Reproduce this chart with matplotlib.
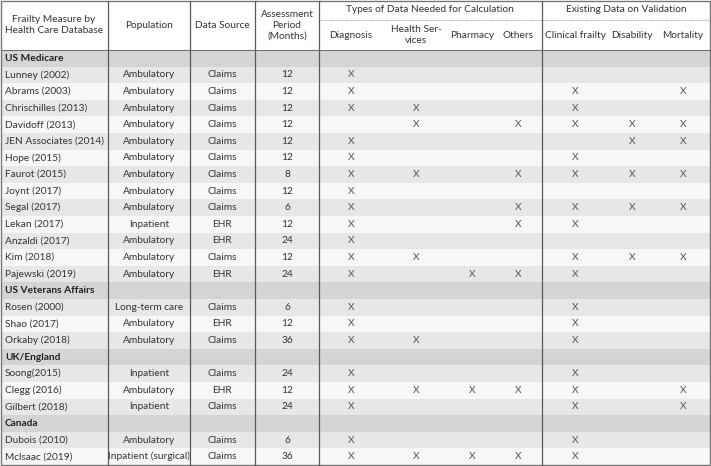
import matplotlib.pyplot as plt
from matplotlib.patches import Rectangle

plt.rcParams['font.family'] = ['Lato', 'DejaVu Sans']

# table content
sections = ['US Medicare', 'US Veterans Affairs', 'UK/England', 'Canada']
studies = [
    ['Lunney (2002)', 'Abrams (2003)', 'Chrischilles (2013)', 'Davidoff (2013)',
     'JEN Associates (2014)', 'Hope (2015)', 'Faurot (2015)', 'Joynt (2017)',
     'Segal (2017)', 'Lekan (2017)', 'Anzaldi (2017)', 'Kim (2018)', 'Pajewski (2019)'],
    ['Rosen (2000)', 'Shao (2017)', 'Orkaby (2018)'],
    ['Soong(2015)', 'Clegg (2016)', 'Gilbert (2018)'],
    ['Dubois (2010)', 'Mclsaac (2019)'],
]
population = [
    ['Ambulatory'] * 9 + ['Inpatient'] + ['Ambulatory'] * 3,
    ['Long-term care', 'Ambulatory', 'Ambulatory'],
    ['Inpatient', 'Ambulatory', 'Inpatient'],
    ['Ambulatory', 'Inpatient (surgical)'],
]
data_source = [
    ['Claims'] * 9 + ['EHR', 'EHR', 'Claims', 'EHR'],
    ['Claims', 'EHR', 'Claims'],
    ['Claims', 'EHR', 'Claims'],
    ['Claims', 'Claims'],
]
period = [
    [12, 12, 12, 12, 12, 12, 8, 12, 6, 12, 24, 12, 24],
    [6, 12, 36],
    [24, 12, 24],
    [6, 36],
]
# marks: Diagnosis, Health Services, Pharmacy, Others, Clinical frailty, Disability, Mortality
marks = [
    ['1000000', '1000101', '1100100', '0101111', '1000011', '1000100', '1101111',
     '1000000', '1001111', '1001100', '1000000', '1100111', '1011100'],
    ['1000100', '1000100', '1100100'],
    ['1000100', '1111101', '1000101'],
    ['1000100', '1111100'],
]

sub_headers = ['Diagnosis', 'Health Ser-\nvices', 'Pharmacy', 'Others',
               'Clinical frailty', 'Disability', 'Mortality']

W, H = 711, 466
fig = plt.figure(figsize=(W / 100, H / 100), dpi=100)
ax = fig.add_axes([0, 0, 1, 1])
ax.set_xlim(0, W)
ax.set_ylim(H, 0)
ax.axis('off')

txt = '#333333'
line = '#5a5a5a'
fs = 7.3

left, right = 1, 709.5
top, head_bot, bottom = 1, 50, 465
vlines = [108, 190, 255, 319, 542]
mark_x = [351, 416, 472, 518, 575, 632, 683]
n_rows = sum(len(s) + 1 for s in studies)
rh = (bottom - head_bot) / n_rows

# header
ax.add_patch(Rectangle((left, top), right - left, head_bot - top, fc='white', ec='none'))
ax.text(54, 25, 'Frailty Measure by\nHealth Care Database', ha='center', va='center',
        fontsize=fs, color=txt, linespacing=1.3)
ax.text(149, 25, 'Population', ha='center', va='center', fontsize=fs, color=txt)
ax.text(222, 25, 'Data Source', ha='center', va='center', fontsize=fs, color=txt)
ax.text(287, 25, 'Assessment\nPeriod\n(Months)', ha='center', va='center',
        fontsize=fs, color=txt, linespacing=1.25)
ax.text(430, 10, 'Types of Data Needed for Calculation', ha='center', va='center',
        fontsize=fs, color=txt)
ax.text(626, 10, 'Existing Data on Validation', ha='center', va='center',
        fontsize=fs, color=txt)
ax.plot([319, right], [19.5, 19.5], color='#888888', lw=0.6, ls=(0, (1, 1)))
for x, h in zip(mark_x, sub_headers):
    ax.text(x, 35, h, ha='center', va='center', fontsize=fs, color=txt, linespacing=1.15)

# body
y = head_bot
for s, sec in enumerate(sections):
    ax.add_patch(Rectangle((left, y), right - left, rh, fc='#d3d4d6', ec='none'))
    ax.text(5, y + rh / 2, sec, ha='left', va='center', fontsize=fs, color='#222222',
            fontweight='bold')
    y += rh
    for i, name in enumerate(studies[s]):
        fc = '#e6e7e9' if i % 2 == 0 else '#f7f7f8'
        ax.add_patch(Rectangle((left, y), right - left, rh, fc=fc, ec='none'))
        cy = y + rh / 2
        ax.text(5, cy, name, ha='left', va='center', fontsize=fs, color=txt)
        ax.text(149, cy, population[s][i], ha='center', va='center', fontsize=fs, color=txt)
        ax.text(222, cy, data_source[s][i], ha='center', va='center', fontsize=fs, color=txt)
        ax.text(287, cy, str(period[s][i]), ha='center', va='center', fontsize=fs, color=txt)
        for k, m in enumerate(marks[s][i]):
            if m == '1':
                ax.text(mark_x[k], cy, 'X', ha='center', va='center', fontsize=fs,
                        color='#555555')
        y += rh

# grid lines
for x in vlines:
    ax.plot([x, x], [top, bottom], color=line, lw=0.9)
ax.plot([left, right], [head_bot, head_bot], color=line, lw=0.6)
ax.add_patch(Rectangle((left, top), right - left, bottom - top, fc='none', ec='#777777', lw=1))

fig.savefig('out.png', dpi=100)
